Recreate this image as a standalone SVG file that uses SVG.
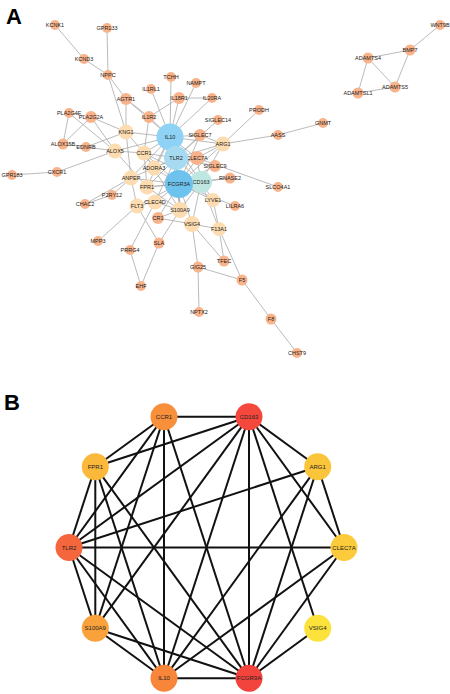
<svg xmlns="http://www.w3.org/2000/svg" width="450" height="694" viewBox="0 0 450 694">
<style>
.ea line{stroke:#a9a9a9;stroke-width:0.8}
.eb line{stroke:#111;stroke-width:2}
.s{fill:#f9b38b}
.p{fill:#fddcb1}
.t{font-family:"Liberation Sans",Arial,sans-serif;font-size:5.5px;fill:#222;text-anchor:middle;dominant-baseline:central}
.tb{font-family:"Liberation Sans",Arial,sans-serif;font-size:6px;fill:#222;text-anchor:middle;dominant-baseline:central}
.lab{font-family:"Liberation Sans",Arial,sans-serif;font-size:22px;font-weight:bold;fill:#000}
</style>
<rect width="450" height="694" fill="#fff"/>
<text class="lab" x="6" y="24">A</text>
<text class="lab" x="4" y="410">B</text>

<g id="edges-A" class="ea">
<line x1="55" y1="25" x2="84" y2="59"/>
<line x1="84" y1="59" x2="108" y2="75"/>
<line x1="107" y1="28" x2="108" y2="75"/>
<line x1="108" y1="75" x2="126" y2="99"/>
<line x1="108" y1="75" x2="126" y2="132"/>
<line x1="126" y1="99" x2="126" y2="132"/>
<line x1="126" y1="99" x2="149" y2="117"/>
<line x1="126" y1="99" x2="170" y2="137"/>
<line x1="69" y1="113" x2="91" y2="117"/>
<line x1="69" y1="113" x2="63" y2="144"/>
<line x1="69" y1="113" x2="115" y2="151"/>
<line x1="91" y1="117" x2="63" y2="144"/>
<line x1="91" y1="117" x2="115" y2="151"/>
<line x1="91" y1="117" x2="126" y2="132"/>
<line x1="63" y1="144" x2="86" y2="147"/>
<line x1="86" y1="147" x2="115" y2="151"/>
<line x1="86" y1="147" x2="126" y2="132"/>
<line x1="126" y1="132" x2="170" y2="137"/>
<line x1="126" y1="132" x2="144" y2="153"/>
<line x1="126" y1="132" x2="131" y2="178"/>
<line x1="115" y1="151" x2="144" y2="153"/>
<line x1="115" y1="151" x2="170" y2="137"/>
<line x1="115" y1="151" x2="147" y2="187"/>
<line x1="57" y1="172" x2="115" y2="151"/>
<line x1="12" y1="175" x2="57" y2="172"/>
<line x1="151" y1="89" x2="170" y2="137"/>
<line x1="179" y1="98" x2="170" y2="137"/>
<line x1="179" y1="98" x2="212" y2="98"/>
<line x1="179" y1="98" x2="149" y2="117"/>
<line x1="171" y1="77" x2="170" y2="137"/>
<line x1="196" y1="83" x2="170" y2="137"/>
<line x1="212" y1="98" x2="170" y2="137"/>
<line x1="149" y1="117" x2="170" y2="137"/>
<line x1="149" y1="117" x2="144" y2="153"/>
<line x1="218" y1="120" x2="176" y2="158"/>
<line x1="259" y1="110" x2="223" y2="144"/>
<line x1="278" y1="135" x2="223" y2="144"/>
<line x1="323" y1="123" x2="278" y2="135"/>
<line x1="200" y1="135" x2="170" y2="137"/>
<line x1="200" y1="135" x2="179" y2="184"/>
<line x1="200" y1="135" x2="176" y2="158"/>
<line x1="200" y1="135" x2="223" y2="144"/>
<line x1="215" y1="166" x2="179" y2="184"/>
<line x1="215" y1="166" x2="176" y2="158"/>
<line x1="278" y1="187" x2="197" y2="158"/>
<line x1="230" y1="178" x2="201" y2="182"/>
<line x1="230" y1="178" x2="179" y2="184"/>
<line x1="235" y1="206" x2="179" y2="184"/>
<line x1="213" y1="200" x2="201" y2="182"/>
<line x1="213" y1="200" x2="179" y2="184"/>
<line x1="213" y1="200" x2="219" y2="229"/>
<line x1="219" y1="229" x2="201" y2="182"/>
<line x1="219" y1="229" x2="192" y2="224"/>
<line x1="219" y1="229" x2="224" y2="261"/>
<line x1="219" y1="229" x2="242" y2="280"/>
<line x1="192" y1="224" x2="224" y2="261"/>
<line x1="192" y1="224" x2="198" y2="267"/>
<line x1="192" y1="224" x2="158" y2="218"/>
<line x1="198" y1="267" x2="199" y2="312"/>
<line x1="198" y1="267" x2="242" y2="280"/>
<line x1="242" y1="280" x2="271" y2="319"/>
<line x1="271" y1="319" x2="297" y2="353"/>
<line x1="159" y1="243" x2="137" y2="206"/>
<line x1="159" y1="243" x2="180" y2="210"/>
<line x1="159" y1="243" x2="141" y2="286"/>
<line x1="130" y1="250" x2="141" y2="286"/>
<line x1="130" y1="250" x2="155" y2="202"/>
<line x1="98" y1="241" x2="137" y2="206"/>
<line x1="137" y1="206" x2="131" y2="178"/>
<line x1="137" y1="206" x2="179" y2="184"/>
<line x1="137" y1="206" x2="155" y2="202"/>
<line x1="131" y1="178" x2="112" y2="195"/>
<line x1="85" y1="204" x2="112" y2="195"/>
<line x1="85" y1="204" x2="131" y2="178"/>
<line x1="131" y1="178" x2="179" y2="184"/>
<line x1="131" y1="178" x2="176" y2="158"/>
<line x1="131" y1="178" x2="170" y2="137"/>
<line x1="154" y1="168" x2="179" y2="184"/>
<line x1="154" y1="168" x2="176" y2="158"/>
<line x1="154" y1="168" x2="170" y2="137"/>
<line x1="154" y1="168" x2="144" y2="153"/>
<line x1="155" y1="202" x2="179" y2="184"/>
<line x1="155" y1="202" x2="180" y2="210"/>
<line x1="155" y1="202" x2="176" y2="158"/>
<line x1="158" y1="218" x2="179" y2="184"/>
<line x1="158" y1="218" x2="180" y2="210"/>
<line x1="197" y1="158" x2="170" y2="137"/>
<line x1="201" y1="182" x2="144" y2="153"/>
<line x1="201" y1="182" x2="147" y2="187"/>
<line x1="201" y1="182" x2="176" y2="158"/>
<line x1="201" y1="182" x2="180" y2="210"/>
<line x1="201" y1="182" x2="170" y2="137"/>
<line x1="201" y1="182" x2="179" y2="184"/>
<line x1="201" y1="182" x2="192" y2="224"/>
<line x1="201" y1="182" x2="197" y2="158"/>
<line x1="201" y1="182" x2="223" y2="144"/>
<line x1="179" y1="184" x2="223" y2="144"/>
<line x1="179" y1="184" x2="197" y2="158"/>
<line x1="179" y1="184" x2="192" y2="224"/>
<line x1="179" y1="184" x2="170" y2="137"/>
<line x1="179" y1="184" x2="180" y2="210"/>
<line x1="179" y1="184" x2="176" y2="158"/>
<line x1="179" y1="184" x2="147" y2="187"/>
<line x1="179" y1="184" x2="144" y2="153"/>
<line x1="176" y1="158" x2="147" y2="187"/>
<line x1="176" y1="158" x2="144" y2="153"/>
<line x1="176" y1="158" x2="223" y2="144"/>
<line x1="176" y1="158" x2="197" y2="158"/>
<line x1="176" y1="158" x2="170" y2="137"/>
<line x1="176" y1="158" x2="180" y2="210"/>
<line x1="144" y1="153" x2="147" y2="187"/>
<line x1="144" y1="153" x2="180" y2="210"/>
<line x1="144" y1="153" x2="170" y2="137"/>
<line x1="180" y1="210" x2="147" y2="187"/>
<line x1="180" y1="210" x2="170" y2="137"/>
<line x1="147" y1="187" x2="170" y2="137"/>
<line x1="223" y1="144" x2="170" y2="137"/>
<line x1="223" y1="144" x2="197" y2="158"/>
<line x1="410" y1="50" x2="440" y2="25"/>
<line x1="410" y1="50" x2="368" y2="58"/>
<line x1="410" y1="50" x2="395" y2="87"/>
<line x1="368" y1="58" x2="395" y2="87"/>
<line x1="368" y1="58" x2="358" y2="93"/>
<line x1="358" y1="93" x2="395" y2="87"/>
</g>

<g id="node-KCNK1"><circle class="s" cx="55" cy="25" r="5"/><text class="t" x="55" y="25">KCNK1</text></g>
<g id="node-GPR133"><circle class="s" cx="107" cy="28" r="5"/><text class="t" x="107" y="28">GPR133</text></g>
<g id="node-KCND3"><circle class="s" cx="84" cy="59" r="5"/><text class="t" x="84" y="59">KCND3</text></g>
<g id="node-NPPC"><circle class="s" cx="108" cy="75" r="5"/><text class="t" x="108" y="75">NPPC</text></g>
<g id="node-AGTR1"><circle class="s" cx="126" cy="99" r="6"/><text class="t" x="126" y="99">AGTR1</text></g>
<g id="node-TCHH"><circle class="s" cx="171" cy="77" r="5"/><text class="t" x="171" y="77">TCHH</text></g>
<g id="node-NAMPT"><circle class="s" cx="196" cy="83" r="5"/><text class="t" x="196" y="83">NAMPT</text></g>
<g id="node-IL1RL1"><circle class="s" cx="151" cy="89" r="5"/><text class="t" x="151" y="89">IL1RL1</text></g>
<g id="node-IL18R1"><circle class="s" cx="179" cy="98" r="6"/><text class="t" x="179" y="98">IL18R1</text></g>
<g id="node-IL20RA"><circle class="s" cx="212" cy="98" r="5"/><text class="t" x="212" y="98">IL20RA</text></g>
<g id="node-PRODH"><circle class="s" cx="259" cy="110" r="5"/><text class="t" x="259" y="110">PRODH</text></g>
<g id="node-SIGLEC14"><circle class="s" cx="218" cy="120" r="5"/><text class="t" x="218" y="120">SIGLEC14</text></g>
<g id="node-IL1R2"><circle class="s" cx="149" cy="117" r="6"/><text class="t" x="149" y="117">IL1R2</text></g>
<g id="node-PLA2G4F"><circle class="s" cx="69" cy="113" r="5"/><text class="t" x="69" y="113">PLA2G4F</text></g>
<g id="node-PLA2G2A"><circle class="s" cx="91" cy="117" r="6"/><text class="t" x="91" y="117">PLA2G2A</text></g>
<g id="node-ALOX15B"><circle class="s" cx="63" cy="144" r="5.5"/><text class="t" x="63" y="144">ALOX15B</text></g>
<g id="node-EDNRB"><circle class="s" cx="86" cy="147" r="5"/><text class="t" x="86" y="147">EDNRB</text></g>
<g id="node-CXCR1"><circle class="s" cx="57" cy="172" r="5"/><text class="t" x="57" y="172">CXCR1</text></g>
<g id="node-GPR183"><circle class="s" cx="12" cy="175" r="5"/><text class="t" x="12" y="175">GPR183</text></g>
<g id="node-P2RY12"><circle class="s" cx="112" cy="195" r="5"/><text class="t" x="112" y="195">P2RY12</text></g>
<g id="node-CHAC2"><circle class="s" cx="85" cy="204" r="5"/><text class="t" x="85" y="204">CHAC2</text></g>
<g id="node-MPP3"><circle class="s" cx="98" cy="241" r="5"/><text class="t" x="98" y="241">MPP3</text></g>
<g id="node-PRRG4"><circle class="s" cx="130" cy="250" r="5"/><text class="t" x="130" y="250">PRRG4</text></g>
<g id="node-SLA"><circle class="s" cx="159" cy="243" r="5.5"/><text class="t" x="159" y="243">SLA</text></g>
<g id="node-EHF"><circle class="s" cx="141" cy="286" r="5"/><text class="t" x="141" y="286">EHF</text></g>
<g id="node-CR1"><circle class="s" cx="158" cy="218" r="6"/><text class="t" x="158" y="218">CR1</text></g>
<g id="node-SIGLEC7"><circle class="s" cx="200" cy="135" r="6"/><text class="t" x="200" y="135">SIGLEC7</text></g>
<g id="node-SIGLEC9"><circle class="s" cx="215" cy="166" r="6"/><text class="t" x="215" y="166">SIGLEC9</text></g>
<g id="node-CLEC7A"><circle class="s" cx="197" cy="158" r="7"/><text class="t" x="197" y="158">CLEC7A</text></g>
<g id="node-RNASE2"><circle class="s" cx="230" cy="178" r="5.5"/><text class="t" x="230" y="178">RNASE2</text></g>
<g id="node-SLCO4A1"><circle class="s" cx="278" cy="187" r="5"/><text class="t" x="278" y="187">SLCO4A1</text></g>
<g id="node-LILRA6"><circle class="s" cx="235" cy="206" r="5"/><text class="t" x="235" y="206">LILRA6</text></g>
<g id="node-AASS"><circle class="s" cx="278" cy="135" r="5"/><text class="t" x="278" y="135">AASS</text></g>
<g id="node-GNMT"><circle class="s" cx="323" cy="123" r="5"/><text class="t" x="323" y="123">GNMT</text></g>
<g id="node-TFEC"><circle class="s" cx="224" cy="261" r="5.5"/><text class="t" x="224" y="261">TFEC</text></g>
<g id="node-GIG25"><circle class="s" cx="198" cy="267" r="5.5"/><text class="t" x="198" y="267">GIG25</text></g>
<g id="node-F5"><circle class="s" cx="242" cy="280" r="5.5"/><text class="t" x="242" y="280">F5</text></g>
<g id="node-NPTX2"><circle class="s" cx="199" cy="312" r="5"/><text class="t" x="199" y="312">NPTX2</text></g>
<g id="node-F8"><circle class="s" cx="271" cy="319" r="5.5"/><text class="t" x="271" y="319">F8</text></g>
<g id="node-CHST9"><circle class="s" cx="297" cy="353" r="5"/><text class="t" x="297" y="353">CHST9</text></g>
<g id="node-WNT9B"><circle class="s" cx="440" cy="25" r="5"/><text class="t" x="440" y="25">WNT9B</text></g>
<g id="node-BMP7"><circle class="s" cx="410" cy="50" r="5.5"/><text class="t" x="410" y="50">BMP7</text></g>
<g id="node-ADAMTS4"><circle class="s" cx="368" cy="58" r="5.5"/><text class="t" x="368" y="58">ADAMTS4</text></g>
<g id="node-ADAMTS5"><circle class="s" cx="395" cy="87" r="5.5"/><text class="t" x="395" y="87">ADAMTS5</text></g>
<g id="node-ADAMTSL1"><circle class="s" cx="358" cy="93" r="5.5"/><text class="t" x="358" y="93">ADAMTSL1</text></g>

<g id="node-KNG1"><circle class="p" cx="126" cy="132" r="7.5"/><text class="t" x="126" y="132">KNG1</text></g>
<g id="node-ALOX5"><circle class="p" cx="115" cy="151" r="7.5"/><text class="t" x="115" y="151">ALOX5</text></g>
<g id="node-CCR1"><circle class="p" cx="144" cy="153" r="7.5"/><text class="t" x="144" y="153">CCR1</text></g>
<g id="node-ADORA3"><circle class="p" cx="154" cy="168" r="7.5"/><text class="t" x="154" y="168">ADORA3</text></g>
<g id="node-ANPEP"><circle class="p" cx="131" cy="178" r="7.5"/><text class="t" x="131" y="178">ANPEP</text></g>
<g id="node-FPR1"><circle class="p" cx="147" cy="187" r="7.5"/><text class="t" x="147" y="187">FPR1</text></g>
<g id="node-FLT3"><circle class="p" cx="137" cy="206" r="7.5"/><text class="t" x="137" y="206">FLT3</text></g>
<g id="node-CLEC4D"><circle class="p" cx="155" cy="202" r="7.5"/><text class="t" x="155" y="202">CLEC4D</text></g>
<g id="node-S100A9"><circle class="p" cx="180" cy="210" r="8"/><text class="t" x="180" y="210">S100A9</text></g>
<g id="node-VSIG4"><circle class="p" cx="192" cy="224" r="8"/><text class="t" x="192" y="224">VSIG4</text></g>
<g id="node-ARG1"><circle class="p" cx="223" cy="144" r="7.5"/><text class="t" x="223" y="144">ARG1</text></g>
<g id="node-LYVE1"><circle class="p" cx="213" cy="200" r="7"/><text class="t" x="213" y="200">LYVE1</text></g>
<g id="node-F13A1"><circle class="p" cx="219" cy="229" r="7"/><text class="t" x="219" y="229">F13A1</text></g>

<g id="node-IL10"><circle cx="170" cy="137" r="13.5" fill="#8ed2f5"/><text class="t" x="170" y="137">IL10</text></g>
<g id="node-TLR2"><circle cx="176" cy="158" r="12" fill="#a6daf1"/><text class="t" x="176" y="158">TLR2</text></g>
<g id="node-CD163"><circle cx="201" cy="182" r="11" fill="#bfe7e2"/><text class="t" x="201" y="182">CD163</text></g>
<g id="node-FCGR3A"><circle cx="179" cy="184" r="14" fill="#6ec2ee"/><text class="t" x="179" y="184">FCGR3A</text></g>

<g id="edges-B" class="eb">
<line x1="164" y1="416.7" x2="249" y2="416.7"/>
<line x1="249" y1="416.7" x2="95.3" y2="466.7"/>
<line x1="249" y1="416.7" x2="69" y2="547.5"/>
<line x1="249" y1="416.7" x2="95.3" y2="628.3"/>
<line x1="249" y1="416.7" x2="164" y2="678.3"/>
<line x1="249" y1="416.7" x2="249" y2="678.3"/>
<line x1="249" y1="416.7" x2="317.7" y2="628.3"/>
<line x1="249" y1="416.7" x2="344" y2="547.5"/>
<line x1="249" y1="416.7" x2="317.7" y2="466.7"/>
<line x1="249" y1="678.3" x2="317.7" y2="466.7"/>
<line x1="249" y1="678.3" x2="344" y2="547.5"/>
<line x1="249" y1="678.3" x2="317.7" y2="628.3"/>
<line x1="249" y1="678.3" x2="164" y2="678.3"/>
<line x1="249" y1="678.3" x2="95.3" y2="628.3"/>
<line x1="249" y1="678.3" x2="69" y2="547.5"/>
<line x1="249" y1="678.3" x2="95.3" y2="466.7"/>
<line x1="249" y1="678.3" x2="164" y2="416.7"/>
<line x1="69" y1="547.5" x2="95.3" y2="466.7"/>
<line x1="69" y1="547.5" x2="164" y2="416.7"/>
<line x1="69" y1="547.5" x2="317.7" y2="466.7"/>
<line x1="69" y1="547.5" x2="344" y2="547.5"/>
<line x1="69" y1="547.5" x2="164" y2="678.3"/>
<line x1="69" y1="547.5" x2="95.3" y2="628.3"/>
<line x1="164" y1="416.7" x2="95.3" y2="466.7"/>
<line x1="164" y1="416.7" x2="95.3" y2="628.3"/>
<line x1="164" y1="416.7" x2="164" y2="678.3"/>
<line x1="95.3" y1="628.3" x2="95.3" y2="466.7"/>
<line x1="95.3" y1="628.3" x2="164" y2="678.3"/>
<line x1="95.3" y1="466.7" x2="164" y2="678.3"/>
<line x1="317.7" y1="466.7" x2="164" y2="678.3"/>
<line x1="317.7" y1="466.7" x2="344" y2="547.5"/>
<line x1="344" y1="547.5" x2="164" y2="678.3"/>
</g>

<g id="nodeB-CCR1"><circle cx="164" cy="416.7" r="13.5" fill="#f78f3b"/><text class="tb" x="164" y="416.7">CCR1</text></g>
<g id="nodeB-CD163"><circle cx="249" cy="416.7" r="13.5" fill="#f4483d"/><text class="tb" x="249" y="416.7">CD163</text></g>
<g id="nodeB-ARG1"><circle cx="317.7" cy="466.7" r="13.5" fill="#fbc53b"/><text class="tb" x="317.7" y="466.7">ARG1</text></g>
<g id="nodeB-CLEC7A"><circle cx="344" cy="547.5" r="13.5" fill="#fbcb3b"/><text class="tb" x="344" y="547.5">CLEC7A</text></g>
<g id="nodeB-VSIG4"><circle cx="317.7" cy="628.3" r="13.5" fill="#fce23b"/><text class="tb" x="317.7" y="628.3">VSIG4</text></g>
<g id="nodeB-FCGR3A"><circle cx="249" cy="678.3" r="13.5" fill="#f2433d"/><text class="tb" x="249" y="678.3">FCGR3A</text></g>
<g id="nodeB-IL10"><circle cx="164" cy="678.3" r="13.5" fill="#f7863b"/><text class="tb" x="164" y="678.3">IL10</text></g>
<g id="nodeB-S100A9"><circle cx="95.3" cy="628.3" r="13.5" fill="#f9a23b"/><text class="tb" x="95.3" y="628.3">S100A9</text></g>
<g id="nodeB-TLR2"><circle cx="69" cy="547.5" r="13.5" fill="#f5663d"/><text class="tb" x="69" y="547.5">TLR2</text></g>
<g id="nodeB-FPR1"><circle cx="95.3" cy="466.7" r="13.5" fill="#fbb93b"/><text class="tb" x="95.3" y="466.7">FPR1</text></g>
</svg>
